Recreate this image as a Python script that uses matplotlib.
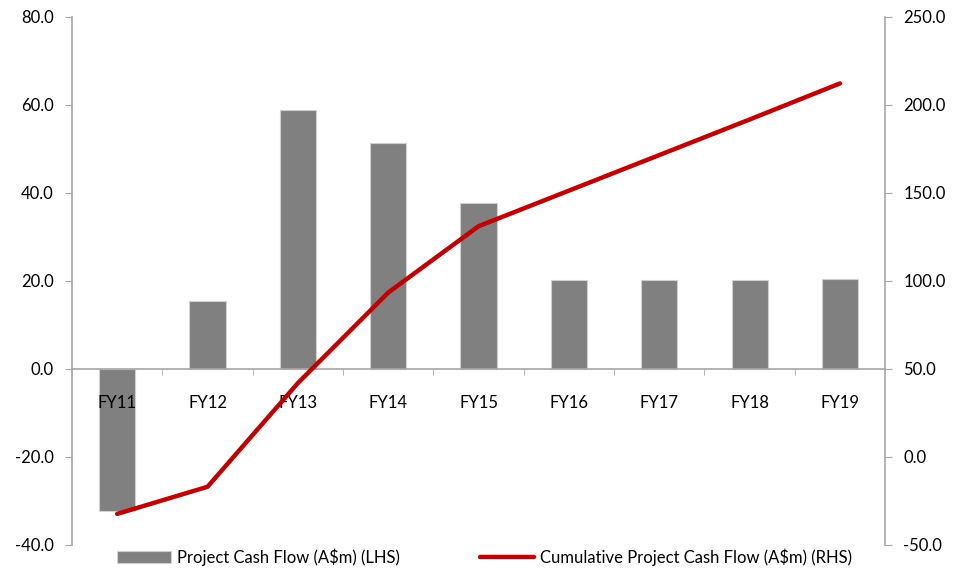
import matplotlib.pyplot as plt
import numpy as np

# Project cash flow by financial year (A$m)
years = ['FY11', 'FY12', 'FY13', 'FY14', 'FY15', 'FY16', 'FY17', 'FY18', 'FY19']
cash_flow = [-32.4, 15.4, 58.9, 51.4, 37.7, 20.2, 20.2, 20.2, 20.5]
cumulative = [-32.4, -17.0, 41.9, 93.3, 131.0, 151.2, 171.4, 191.6, 212.1]

left_ticks = [-40, -20, 0, 20, 40, 60, 80]
right_ticks = [-50, 0, 50, 100, 150, 200, 250]

plt.rcParams['font.family'] = ['Lato', 'DejaVu Sans']

axis_grey = '#A6A6A6'
bar_grey = '#808080'
line_red = '#C00000'

fig = plt.figure(figsize=(9.6, 5.76), dpi=100)
ax = fig.add_axes([0.075, 0.054, 0.847, 0.917])
x = np.arange(len(years))

bars = ax.bar(x, cash_flow, width=0.4, color=bar_grey, edgecolor='#D0D0D0',
              linewidth=0.8, zorder=2, label='Project Cash Flow (A\\$m) (LHS)')
ax.set_xlim(-0.5, len(years) - 0.5)
ax.set_ylim(-40, 80)
ax.set_yticks(left_ticks)
ax.set_yticklabels([f'{v:.1f}' for v in left_ticks], fontsize=12)

# x axis sits on the zero line, labels hang below it and over the bars
ax.set_axisbelow(False)
for s in ['top', 'right']:
    ax.spines[s].set_visible(False)
ax.spines['bottom'].set_position(('data', 0))
ax.spines['bottom'].set_color(axis_grey)
ax.spines['left'].set_color(axis_grey)
ax.spines['bottom'].set_linewidth(1.2)
ax.spines['left'].set_linewidth(1.2)
ax.set_xticks(x)
ax.set_xticklabels(years, fontsize=12)
ax.set_xticks(np.arange(0.5, len(years) - 1, 1), minor=True)
ax.tick_params(axis='x', which='major', length=0, pad=19)
ax.tick_params(axis='x', which='minor', length=4, color=axis_grey, direction='out')
ax.tick_params(axis='y', length=5, color=axis_grey, pad=8)

ax2 = ax.twinx()
ax2.set_ylim(-50, 250)
ax2.set_yticks(right_ticks)
ax2.set_yticklabels([f'{v:.1f}' for v in right_ticks], fontsize=12)
ax2.plot(x, cumulative, color=line_red, linewidth=3.2, solid_capstyle='round',
         zorder=3, label='Cumulative Project Cash Flow (A\\$m) (RHS)')
for s in ['top', 'left', 'bottom']:
    ax2.spines[s].set_visible(False)
ax2.spines['right'].set_color(axis_grey)
ax2.spines['right'].set_linewidth(1.2)
ax2.tick_params(axis='y', length=5, color=axis_grey, pad=8)

handles = [bars, ax2.get_lines()[0]]
labels = [h.get_label() for h in handles]
fig.legend(handles, labels, loc='lower center', bbox_to_anchor=(0.505, -0.008),
           ncol=2, frameon=False, fontsize=12, handlelength=3.2,
           columnspacing=4.8, handletextpad=0.4)

fig.savefig('out.png', dpi=100)
